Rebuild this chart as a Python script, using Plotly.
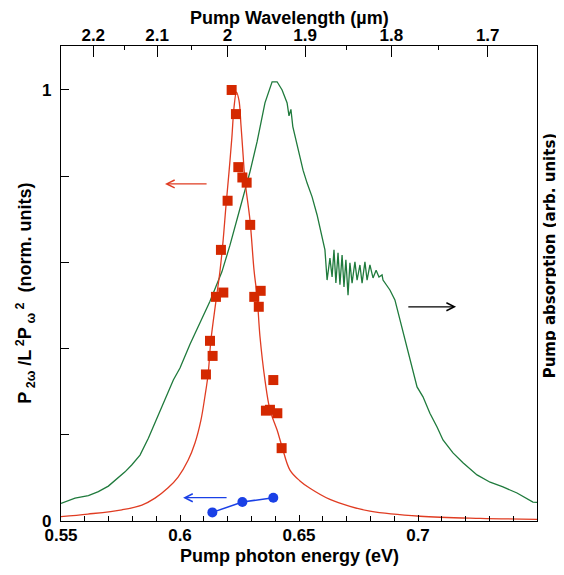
import plotly.graph_objects as go

# SHG data (red squares), normalized
shg_energy = [0.6217, 0.6235, 0.6245, 0.6262, 0.6280, 0.6200, 0.6295, 0.6172, 0.6182, 0.6151, 0.6339,
              0.6312, 0.6331, 0.6126, 0.6137, 0.6109, 0.6392, 0.6361, 0.6378, 0.6409, 0.6427]
shg_value = [1.0, 0.944, 0.821, 0.797, 0.785, 0.743, 0.687, 0.629, 0.530, 0.520, 0.534,
             0.520, 0.497, 0.418, 0.383, 0.340, 0.327, 0.256, 0.258, 0.250, 0.169]

# fitted curve (red line)
fit_energy = [0.55, 0.5613, 0.5756, 0.5840, 0.5895, 0.5950, 0.5992, 0.6034, 0.6063, 0.6088, 0.6105,
              0.6118, 0.6130, 0.6151, 0.6168, 0.6181, 0.6193, 0.6206, 0.6218, 0.6227, 0.6237, 0.6248,
              0.6256, 0.6265, 0.6273, 0.6294, 0.6311, 0.6324, 0.6336, 0.6357, 0.6378, 0.6408, 0.6429,
              0.6462, 0.6504, 0.6546, 0.6630, 0.6714, 0.6798, 0.7008, 0.7261, 0.75]
fit_value = [0.010, 0.016, 0.026, 0.037, 0.053, 0.077, 0.102, 0.141, 0.181, 0.234, 0.29,
             0.34, 0.42, 0.51, 0.58, 0.65, 0.73, 0.81, 0.89, 0.96, 0.995, 0.975,
             0.92, 0.85, 0.79, 0.698, 0.582, 0.52, 0.428, 0.327, 0.258, 0.211, 0.172,
             0.118, 0.093, 0.076, 0.05, 0.034, 0.023, 0.011, 0.006, 0.004]

# other polarization (blue)
blue_energy = [0.6136, 0.6262, 0.6392]
blue_value = [0.020, 0.044, 0.054]

# pump absorption spectrum (green)
abs_energy = [0.5500, 0.5559, 0.5615, 0.5657, 0.5699, 0.5734, 0.5769, 0.5797, 0.5832, 0.5867, 0.5895,
              0.5923, 0.5944, 0.5972, 0.6000, 0.6042, 0.6084, 0.6126, 0.6176, 0.6210, 0.6252, 0.6294,
              0.6324, 0.6357, 0.6387, 0.6408, 0.6429, 0.6450, 0.6458, 0.6466, 0.6474, 0.6483, 0.6504,
              0.6517, 0.6534, 0.6555, 0.6576, 0.6601, 0.6609, 0.6618, 0.6630, 0.6639, 0.6647, 0.6655,
              0.6664, 0.6672, 0.6681, 0.6689, 0.6697, 0.6706, 0.6714, 0.6723, 0.6735, 0.6744, 0.6756,
              0.6765, 0.6777, 0.6786, 0.6798, 0.6811, 0.6824, 0.6836, 0.6849, 0.6853, 0.6882, 0.6903,
              0.6937, 0.6966, 0.6996, 0.7021, 0.7050, 0.7080, 0.7105, 0.7147, 0.7189, 0.7248, 0.7303,
              0.7357, 0.7416, 0.7483, 0.75]
abs_value = [0.041, 0.053, 0.059, 0.068, 0.081, 0.097, 0.114, 0.13, 0.153, 0.192, 0.227,
             0.265, 0.292, 0.327, 0.355, 0.41, 0.46, 0.51, 0.578, 0.64, 0.725, 0.81,
             0.88, 0.97, 1.019, 1.019, 1.0, 0.97, 0.94, 0.955, 0.915, 0.895, 0.845,
             0.814, 0.784, 0.752, 0.71, 0.645, 0.629, 0.559, 0.61, 0.566, 0.629, 0.552,
             0.622, 0.548, 0.617, 0.543, 0.606, 0.524, 0.599, 0.552, 0.601, 0.559, 0.594,
             0.552, 0.601, 0.559, 0.594, 0.564, 0.582, 0.566, 0.571, 0.559, 0.536, 0.513,
             0.44, 0.38, 0.311, 0.288, 0.25, 0.218, 0.188, 0.158, 0.135, 0.107, 0.09,
             0.079, 0.065, 0.044, 0.043]

# top axis: wavelength in um
wl_major = [2.2, 2.1, 2.0, 1.9, 1.8, 1.7]
wl_major_text = ["2.2", "2.1", "2", "1.9", "1.8", "1.7"]
wl_minor = [2.15, 2.05, 1.95, 1.85, 1.75]

bold = dict(family="Liberation Sans, Arial", size=17, color="black", weight="bold")
title_font = dict(family="Liberation Sans, Arial", size=18, color="black", weight="bold")

fig = go.Figure()
fig.add_trace(go.Scatter(x=abs_energy, y=abs_value, mode="lines",
                         line=dict(color="#1f7a3c", width=1.3)))
fig.add_trace(go.Scatter(x=fit_energy, y=fit_value, mode="lines",
                         line=dict(color="#e03c22", width=1.3, shape="spline")))
fig.add_trace(go.Scatter(x=shg_energy, y=shg_value, mode="markers",
                         marker=dict(symbol="square", size=10, color="#d42800")))
fig.add_trace(go.Scatter(x=blue_energy, y=blue_value, mode="lines+markers",
                         line=dict(color="#1a40e6", width=1.5),
                         marker=dict(symbol="circle", size=10, color="#1a40e6")))
# invisible traces so the top axes are drawn
fig.add_trace(go.Scatter(x=[0.6], y=[0], xaxis="x2", mode="markers", marker=dict(opacity=0)))
fig.add_trace(go.Scatter(x=[0.6], y=[0], xaxis="x3", mode="markers", marker=dict(opacity=0)))

# arrows
for head, tail, yv, col in [(0.5937, 0.6118, 0.782, "#e03c22"),
                            (0.6013, 0.6202, 0.054, "#1a40e6"),
                            (0.7160, 0.6953, 0.497, "black")]:
    fig.add_annotation(x=head, y=yv, ax=tail, ay=yv, xref="x", yref="y", axref="x", ayref="y",
                       text="", showarrow=True, arrowhead=5, arrowsize=1.2, arrowwidth=1.3,
                       arrowcolor=col)

# axis titles
fig.add_annotation(text="Pump photon energy (eV)", xref="paper", yref="paper",
                   x=0.481, y=-0.074, xanchor="center", yanchor="middle",
                   showarrow=False, font=title_font)
fig.add_annotation(text="Pump Wavelength (µm)", xref="paper", yref="paper",
                   x=0.481, y=1.058, xanchor="center", yanchor="middle",
                   showarrow=False, font=title_font)
fig.add_annotation(text="P<sub> 2ω</sub> /L<sup> 2</sup>P<sub> ω</sub><sup> 2</sup>  (norm. units)",
                   xref="paper", yref="paper", x=-0.076, y=0.48, textangle=-90,
                   xanchor="center", yanchor="middle", showarrow=False, font=title_font)
fig.add_annotation(text="Pump absorption (arb. units)", xref="paper", yref="paper",
                   x=1.028, y=0.56, textangle=-90, xanchor="center", yanchor="middle",
                   showarrow=False,
                   font=dict(family="DejaVu Sans", size=15, color="black", weight="bold"))

# page body has an 8px margin, so the figure is 16px smaller than the window
fig.update_layout(
    width=556, height=567,
    margin=dict(l=53, r=27, t=38, b=54),
    plot_bgcolor="white", paper_bgcolor="white",
    showlegend=False,
    xaxis=dict(range=[0.55, 0.75], tickvals=[0.55, 0.6, 0.65, 0.7],
               ticks="inside", ticklen=6, tickcolor="black", showline=True, linecolor="black",
               linewidth=1.2, showgrid=False, zeroline=False, tickfont=bold,
               ticklabelstandoff=-2,
               minor=dict(dtick=0.01, ticks="inside", ticklen=5, tickcolor="black")),
    xaxis2=dict(range=[0.55, 0.75], overlaying="x", side="top", anchor="y",
                tickvals=[1.2398 / w for w in wl_major], ticktext=wl_major_text,
                ticks="inside", ticklen=11, tickcolor="black", showline=True, linecolor="black",
                linewidth=1.2, showgrid=False, zeroline=False, tickfont=bold,
                ticklabelstandoff=-3),
    xaxis3=dict(range=[0.55, 0.75], overlaying="x", side="top", anchor="y",
                tickvals=[1.2398 / w for w in wl_minor], showticklabels=False,
                ticks="inside", ticklen=4, tickcolor="black", showgrid=False, zeroline=False),
    yaxis=dict(range=[0, 1.102], tickvals=[0, 0.2, 0.4, 0.6, 0.8, 1.0],
               ticktext=["0", "", "", "", "", "1"], ticks="inside", ticklen=8, tickcolor="black",
               showline=True, linecolor="black", linewidth=1.2, mirror=True,
               showgrid=False, zeroline=False, tickfont=bold, ticklabelstandoff=5),
)

fig.write_html("out.html")
